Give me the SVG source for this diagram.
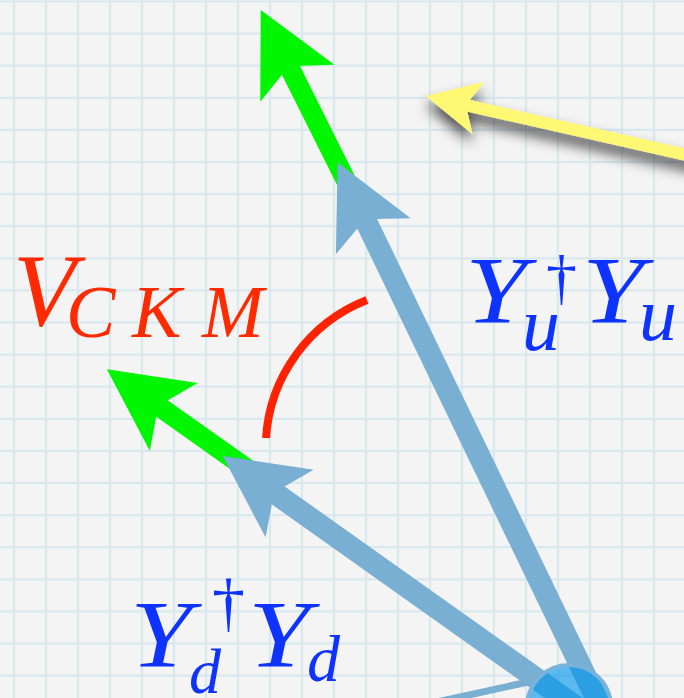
<svg xmlns="http://www.w3.org/2000/svg" width="684" height="698" viewBox="0 0 684 698">
  <style>
    .grid { fill: none; stroke: #d7e8ef; stroke-width: 2.2; }
    .shaft { fill: none; stroke-linecap: butt; }
    .green { stroke: #00f500; stroke-width: 20; }
    .blue { stroke: #78afd3; stroke-width: 22; }
    .yellow { stroke: #fff874; stroke-width: 12; }
    .math { font-family: "Liberation Serif", "Times New Roman", serif; font-style: italic; }
    .up { font-style: normal; }
    .lblue { fill: #0f33ff; }
    .lred { fill: #ff2a00; }
  </style>
  <defs>
    <marker id="headGreen" markerUnits="userSpaceOnUse" markerWidth="1" markerHeight="1" refX="0" refY="0" orient="auto" overflow="visible">
      <path d="M63 0 L-19 41.5 L0 0 L-19 -41.5 Z" fill="#00f500"/>
    </marker>
    <marker id="headBlue" markerUnits="userSpaceOnUse" markerWidth="1" markerHeight="1" refX="0" refY="0" orient="auto" overflow="visible">
      <path d="M63 0 L-19 41.5 L0 0 L-19 -41.5 Z" fill="#78afd3"/>
    </marker>
    <marker id="headYellow" markerUnits="userSpaceOnUse" markerWidth="1" markerHeight="1" refX="0" refY="0" orient="auto" overflow="visible">
      <path d="M41 0 L-13 27 L0 0 L-13 -27 Z" fill="#fff874"/>
    </marker>
    <filter id="shadow" x="-20%" y="-60%" width="140%" height="220%">
      <feDropShadow dx="0" dy="9" stdDeviation="7" flood-color="#000" flood-opacity="0.7"/>
    </filter>
  </defs>

  <rect id="background" x="0" y="0" width="684" height="698" fill="#f4f4f4"/>
  <path id="grid" class="grid" d="M14 0V698M46 0V698M78 0V698M110 0V698M142 0V698M174 0V698M206 0V698M238 0V698M270 0V698M302 0V698M334 0V698M366 0V698M398 0V698M430 0V698M462 0V698M494 0V698M526 0V698M558 0V698M590 0V698M622 0V698M654 0V698
  M0 1.5H684M0 33.6H684M0 65.7H684M0 97.8H684M0 129.9H684M0 162H684M0 194.1H684M0 226.2H684M0 258.3H684M0 290.4H684M0 322.5H684M0 354.6H684M0 386.7H684M0 418.8H684M0 450.9H684M0 483H684M0 515.1H684M0 547.2H684M0 579.3H684M0 611.4H684M0 643.5H684M0 675.6H684"/>

  <g id="connectors">
    <path id="arrow-yellow" class="shaft yellow" d="M740 167 L465.8 105.1" marker-end="url(#headYellow)" filter="url(#shadow)"/>
    <path id="arrow-green-up" class="shaft green" d="M363.5 215.6 L288.9 66.3" marker-end="url(#headGreen)"/>
    <path id="arrow-green-down" class="shaft green" d="M261.9 479.3 L158.3 405.8" marker-end="url(#headGreen)"/>
    <path id="arrow-blue-third" class="shaft" d="M535 680.5 L400 710" stroke="#78afd3" stroke-width="7"/>
    <path id="arrow-blue-up" class="shaft blue" d="M613 733 L365 219.2" marker-end="url(#headBlue)"/>
    <path id="arrow-blue-down" class="shaft blue" d="M613 733 L274.1 492.5" marker-end="url(#headBlue)"/>
    <path id="angle-arc" d="M266 438 A159 159 0 0 1 367 300" fill="none" stroke="#ff2200" stroke-width="8"/>
  </g>

  <g id="origin">
    <circle cx="569" cy="707" r="42" fill="rgb(0,150,235)" fill-opacity="0.63" stroke="#79b3da" stroke-width="4"/>
  </g>

  <g id="label-vckm">
    <text class="math lred"><tspan x="13" y="325" font-size="103">V</tspan><tspan x="66 132 202" y="337" font-size="74">CKM</tspan></text>
  </g>

  <g id="label-yu">
    <text class="math lblue"><tspan x="465" y="323" font-size="96" textLength="62" lengthAdjust="spacingAndGlyphs">Y</tspan><tspan class="up" x="546" y="298" font-size="62">†</tspan><tspan x="522" y="350" font-size="76">u</tspan><tspan x="582" y="323" font-size="96" textLength="62" lengthAdjust="spacingAndGlyphs">Y</tspan><tspan x="639" y="340" font-size="76">u</tspan></text>
  </g>

  <g id="label-yd">
    <text class="math lblue"><tspan x="130" y="667" font-size="96" textLength="62" lengthAdjust="spacingAndGlyphs">Y</tspan><tspan class="up" x="212" y="624" font-size="66">†</tspan><tspan x="189" y="693" font-size="64">d</tspan><tspan x="248" y="667" font-size="96" textLength="62" lengthAdjust="spacingAndGlyphs">Y</tspan><tspan x="307" y="681" font-size="66">d</tspan></text>
  </g>
</svg>
